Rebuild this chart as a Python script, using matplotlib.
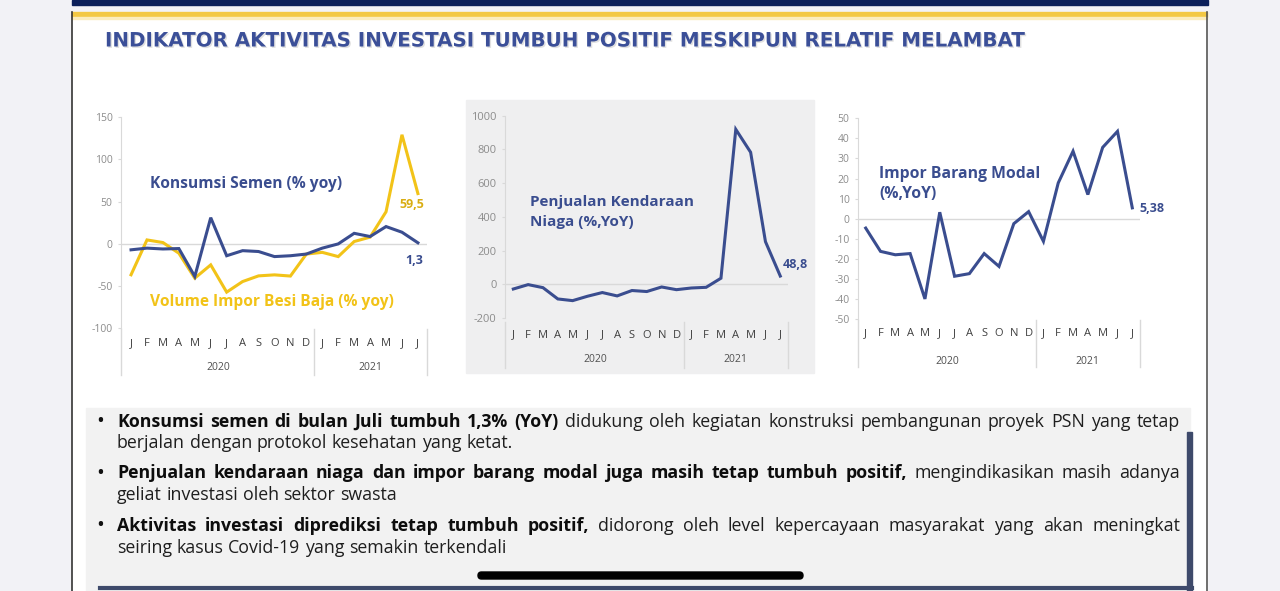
import matplotlib
matplotlib.use('Agg')
import matplotlib.pyplot as plt
import matplotlib.transforms as mtransforms
import matplotlib.patheffects as pe
from matplotlib.patches import Rectangle, FancyBboxPatch

plt.rcParams['axes.unicode_minus'] = False

W, H = 1280, 591

months = ['J', 'F', 'M', 'A', 'M', 'J', 'J', 'A', 'S', 'O', 'N', 'D',
          'J', 'F', 'M', 'A', 'M', 'J', 'J']
years = ['2020', '2021']

# Jan 2020 .. Jul 2021, % yoy
semen = [-7, -5, -6, -5.5, -38.5, 31, -14, -8, -9, -15, -14, -12,
         -5, 0, 12.5, 8.7, 20.5, 13.8, 1.3]
besi_baja = [-36.5, 4.7, 1.6, -11, -40.5, -24.8, -57, -44.5, -37.8, -36.6, -38, -12,
             -10, -15, 2.8, 8, 38, 129, 59.5]
kendaraan = [-28, -2, -20, -87, -97, -71, -49, -69, -37, -43, -16, -32,
             -22, -18, 36, 919, 783, 253, 48.8]
impor_modal = [-4.7, -16.3, -18, -17.4, -40, 3.2, -28.7, -27.4, -17.4, -23.8, -2.5, 3.5,
               -11.3, 17.8, 33.6, 12, 35.5, 43.5, 5.38]

title = 'INDIKATOR AKTIVITAS INVESTASI TUMBUH POSITIF MESKIPUN RELATIF MELAMBAT'

body_lines = [
    ('Konsumsi semen di bulan Juli tumbuh 1,3% (YoY)',
     'didukung oleh kegiatan konstruksi pembangunan proyek PSN yang tetap', True, True),
    ('', 'berjalan dengan protokol kesehatan yang ketat.', False, False),
    ('Penjualan kendaraan niaga dan impor barang modal juga masih tetap tumbuh positif,',
     'mengindikasikan masih adanya', True, True),
    ('', 'geliat investasi oleh sektor swasta', False, False),
    ('Aktivitas investasi diprediksi tetap tumbuh positif,',
     'didorong oleh level kepercayaan masyarakat yang akan meningkat', True, True),
    ('', 'seiring kasus Covid-19 yang semakin terkendali', False, False),
]
body_y = [422, 443, 473, 495, 526, 548]

NAVY = '#3a4d8f'
YELLOW = '#f2c318'
GRID = '#d9d9d9'
FONT = ['Open Sans', 'DejaVu Sans']

fig = plt.figure(figsize=(W / 100, H / 100), dpi=100, facecolor='#f2f2f6')

bg = fig.add_axes([0, 0, 1, 1], zorder=0)
bg.set_xlim(0, W)
bg.set_ylim(H, 0)
bg.axis('off')

fg = fig.add_axes([0, 0, 1, 1], zorder=5)
fg.set_xlim(0, W)
fg.set_ylim(H, 0)
fg.axis('off')
fg.patch.set_alpha(0)
fg.set_autoscale_on(False)

# slide frame
bg.add_patch(Rectangle((72, 0), 1136, 5, color='#0b1f5a'))
bg.add_patch(Rectangle((72, 12), 1135, H - 12, color='white'))
bg.add_patch(Rectangle((72, 12), 1135, 5, color='#f3c843'))
bg.add_patch(Rectangle((72, 17), 1135, 2, color='#fbecbd'))
bg.plot([72, 72], [12, H], color='#333333', lw=1.2)
bg.plot([1207, 1207], [12, H], color='#555555', lw=1.2)

# grey panel behind middle chart
bg.add_patch(Rectangle((466, 100), 348, 273, color='#efeff0'))

# text box
bg.add_patch(Rectangle((86, 408), 1104, H - 408, color='#f2f2f2'))
bg.add_patch(Rectangle((1187, 432), 5, H - 432, color='#3e4a6b'))
bg.plot([100, 1192], [588, 588], color='#3e4a6b', lw=3)

fg.text(105, 41, title, fontsize=14.3, fontweight='bold', color='#3b4f98',
        family=['DejaVu Sans'], va='center', ha='left',
        path_effects=[pe.withSimplePatchShadow(offset=(1, -1), shadow_rgbFace='#999999', alpha=0.3)])


def chart(x0, x1, ytop, ybot, ylim, yticks, xlim, data, colors,
          month_y, year_y, sep_top, sep_bot, ylab_fs=7.5):
    ax = fig.add_axes([x0 / W, 1 - ybot / H, (x1 - x0) / W, (ybot - ytop) / H], zorder=2)
    ax.patch.set_alpha(0)
    ax.set_xlim(*xlim)
    ax.set_ylim(*ylim)
    for s in ['top', 'right', 'bottom']:
        ax.spines[s].set_visible(False)
    ax.spines['left'].set_color(GRID)
    ax.set_yticks(yticks)
    ax.tick_params(axis='y', length=2, color=GRID, pad=4, labelsize=ylab_fs, labelcolor='#8c8c8c')
    for lab in ax.get_yticklabels():
        lab.set_family(FONT)
    ax.set_xticks([])
    ax.axhline(0, color=GRID, lw=1, zorder=1)
    for vals, c in zip(data, colors):
        ax.plot(range(len(vals)), vals, color=c, lw=2.2, zorder=3, solid_joinstyle='miter')
    tr = mtransforms.blended_transform_factory(ax.transData, fg.transData)
    for i, m in enumerate(months):
        fg.text(i, month_y, m, transform=tr, ha='center', va='center', fontsize=8,
                color='#404040', family=FONT)
    fg.text(5.5, year_y, years[0], transform=tr, ha='center', va='center', fontsize=7.5,
            color='#505050', family=FONT)
    fg.text(15, year_y, years[1], transform=tr, ha='center', va='center', fontsize=7.5,
            color='#505050', family=FONT)
    for xs in [xlim[0], 11.5, xlim[1]]:
        fg.plot([xs, xs], [sep_top, sep_bot], transform=tr, color=GRID, lw=1)
    return ax


chart(121, 427, 117, 328.5, (-100, 150), [-100, -50, 0, 50, 100, 150], (-0.63, 18.57),
      [besi_baja, semen], [YELLOW, NAVY], 344, 367, 328.5, 375)
chart(505, 788, 115.7, 318, (-200, 1000), [-200, 0, 200, 400, 600, 800, 1000], (-0.56, 18.52),
      [kendaraan], [NAVY], 335, 360, 322, 368, ylab_fs=8)
chart(858, 1140, 118.3, 319, (-50, 50), list(range(-50, 51, 10)), (-0.52, 18.52),
      [impor_modal], [NAVY], 334, 361, 320, 367)

LBL = dict(fontweight='bold', family=FONT, va='center', ha='left')
fg.text(150, 184, 'Konsumsi Semen (% yoy)', fontsize=11.2, color=NAVY, **LBL)
fg.text(150, 302, 'Volume Impor Besi Baja (% yoy)', fontsize=11.2, color=YELLOW, **LBL)
fg.text(399, 204, '59,5', fontsize=9, color='#d9ad12', **LBL)
fg.text(405, 261, '1,3', fontsize=9, color=NAVY, **LBL)
fg.text(530, 202, 'Penjualan Kendaraan', fontsize=11, color=NAVY, **LBL)
fg.text(530, 222, 'Niaga (%,YoY)', fontsize=11, color=NAVY, **LBL)
fg.text(783, 265, '48,8', fontsize=9, color=NAVY, **LBL)
fg.text(879, 174, 'Impor Barang Modal', fontsize=11.3, color=NAVY, **LBL)
fg.text(879, 194, '(%,YoY)', fontsize=11.3, color=NAVY, **LBL)
fg.text(1139, 208, '5,38', fontsize=9, color=NAVY, **LBL)

# body text, justified word by word
renderer = fig.canvas.get_renderer()
BX0, BX1 = 117, 1180
BODY_FS = 12.8
probe1 = fg.text(0, 0, 'a a', fontsize=BODY_FS, family=FONT)
probe2 = fg.text(0, 0, 'aa', fontsize=BODY_FS, family=FONT)
space = probe1.get_window_extent(renderer).width - probe2.get_window_extent(renderer).width
probe1.remove()
probe2.remove()
for (bold, reg, justify, bullet), y in zip(body_lines, body_y):
    if bullet:
        fg.text(96, y, '\u2022', fontsize=15, color='#111111', family=FONT,
                va='center', ha='left')
    words = [(w, True) for w in bold.split()] + [(w, False) for w in reg.split()]
    texts = []
    for w, b in words:
        t = fg.text(0, y, w, fontsize=BODY_FS, family=FONT, va='center', ha='left',
                    fontweight='bold' if b else 'normal', color='#0d0d0d' if b else '#1e1e1e')
        texts.append(t)
    widths = [t.get_window_extent(renderer).width for t in texts]
    if justify and len(texts) > 1:
        gap = (BX1 - BX0 - sum(widths)) / (len(texts) - 1)
    else:
        gap = space
    x = BX0
    for t, w in zip(texts, widths):
        t.set_x(x)
        x += w + gap

bg.add_patch(FancyBboxPatch((478, 572), 325, 7, boxstyle='round,pad=0,rounding_size=3.5',
                            color='black'))

fig.savefig('out.png', dpi=100, facecolor=fig.get_facecolor())
